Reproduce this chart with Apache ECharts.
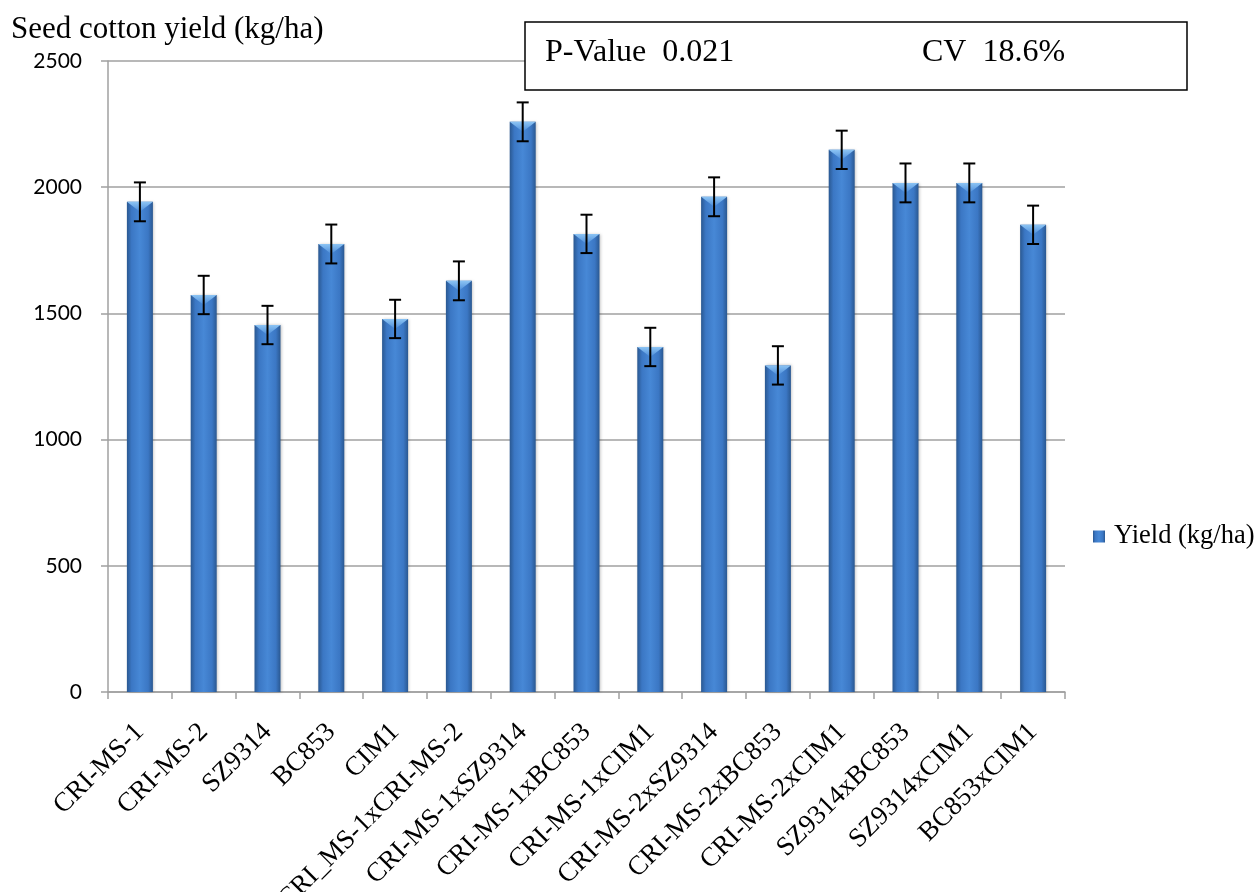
<!DOCTYPE html>
<html>
<head>
<meta charset="utf-8">
<script src="https://cdn.jsdelivr.net/npm/echarts@6/dist/echarts.min.js"></script>
<style>
html,body{margin:0;padding:0;background:#fff;}
#chart{width:1257px;height:892px;}
</style>
</head>
<body>
<div id="chart"></div>
<script>
const categories = ['CRI-MS-1','CRI-MS-2','SZ9314','BC853','CIM1','CRI_MS-1xCRI-MS-2','CRI-MS-1xSZ9314','CRI-MS-1xBC853','CRI-MS-1xCIM1','CRI-MS-2xSZ9314','CRI-MS-2xBC853','CRI-MS-2xCIM1','SZ9314xBC853','SZ9314xCIM1','BC853xCIM1'];
const yieldValues = [1942,1573,1454,1775,1478,1629,2259,1815,1367,1962,1294,2148,2017,2017,1851];
const errorValues = [77,76,76,77,76,77,77,76,76,77,76,76,77,77,76];
const yTicks = [0,500,1000,1500,2000,2500];
const seriesName = 'Yield (kg/ha)';
const titleText = 'Seed cotton yield (kg/ha)';
const pValueText = 'P-Value  0.021';
const cvText = 'CV  18.6%';

const serif = '"Liberation Serif","Times New Roman",serif';
const chart = echarts.init(document.getElementById('chart'), null, {renderer:'canvas'});

const barGrad = new echarts.graphic.LinearGradient(0,0,1,0,[
  {offset:0,color:'#2a5891'},
  {offset:0.18,color:'#3b77c4'},
  {offset:0.5,color:'#4788d6'},
  {offset:0.82,color:'#3b77c4'},
  {offset:1,color:'#2a5891'}
]);

const BAR_W = 26;

chart.setOption({
  animation:false,
  backgroundColor:'#fff',
  title:{
    text:titleText,
    left:6, top:9,
    textStyle:{fontFamily:serif,fontSize:31,fontWeight:'normal',color:'#000'}
  },
  legend:{
    data:[seriesName],
    left:1088, top:518,
    icon:'rect',
    itemWidth:12, itemHeight:12, itemGap:4,
    textStyle:{fontFamily:serif,fontSize:26.5,color:'#000',padding:[0,0,0,4]}
  },
  grid:{left:108,right:192,top:61,bottom:200,containLabel:false,outerBoundsMode:'none'},
  xAxis:{
    type:'category',
    data:categories,
    boundaryGap:true,
    axisLine:{show:true,lineStyle:{color:'#a0a0a0',width:1.5}},
    axisTick:{show:true,length:7,lineStyle:{color:'#a0a0a0',width:1.5}},
    axisLabel:{
      interval:0,
      rotate:45,
      margin:36,
      fontFamily:serif,
      fontSize:27,
      color:'#000'
    },
    splitLine:{show:false}
  },
  yAxis:{
    type:'value',
    min:yTicks[0], max:yTicks[yTicks.length-1], interval:500,
    axisLine:{show:true,lineStyle:{color:'#a0a0a0',width:1.5}},
    axisTick:{show:true,length:7,lineStyle:{color:'#a0a0a0',width:1.5}},
    axisLabel:{margin:26,fontFamily:'Lato, "Liberation Sans", sans-serif',fontSize:21,color:'#000',formatter:function(v){return String(v);}},
    splitLine:{show:true,lineStyle:{color:'#a0a0a0',width:1.5}}
  },
  series:[
    {
      name:seriesName,
      type:'bar',
      data:yieldValues,
      barWidth:BAR_W,
      itemStyle:{color:barGrad,shadowColor:'rgba(0,0,0,0.25)',shadowBlur:3,shadowOffsetX:1}
    },
    {
      name:'bevel',
      type:'custom',
      silent:true,
      z:3,
      data:yieldValues.map((v,i)=>[i,v]),
      renderItem:function(params,api){
        const p = api.coord([api.value(0),api.value(1)]);
        const hw = BAR_W/2;
        return {
          type:'polygon',
          shape:{points:[[p[0]-hw,p[1]],[p[0]+hw,p[1]],[p[0],p[1]+10]]},
          style:{fill:new echarts.graphic.LinearGradient(0,0,0,1,[{offset:0,color:'#8cc4f4'},{offset:1,color:'#4a8ad8'}])}
        };
      }
    },
    {
      name:'error',
      type:'custom',
      silent:true,
      z:4,
      data:yieldValues.map((v,i)=>[i,v-errorValues[i],v+errorValues[i]]),
      renderItem:function(params,api){
        const x = api.value(0);
        const lo = api.coord([x,api.value(1)]);
        const hi = api.coord([x,api.value(2)]);
        const cw = 6;
        const st = {stroke:'#000',lineWidth:2};
        return {
          type:'group',
          children:[
            {type:'line',shape:{x1:hi[0],y1:hi[1],x2:lo[0],y2:lo[1]},style:st},
            {type:'line',shape:{x1:hi[0]-cw,y1:hi[1],x2:hi[0]+cw,y2:hi[1]},style:st},
            {type:'line',shape:{x1:lo[0]-cw,y1:lo[1],x2:lo[0]+cw,y2:lo[1]},style:st}
          ]
        };
      }
    }
  ],
  graphic:[
    {
      type:'rect',
      z:100,
      shape:{x:525,y:22,width:662,height:68},
      style:{fill:'#fff',stroke:'#000',lineWidth:1.5}
    },
    {
      type:'text',
      z:101,
      x:545, y:53,
      style:{text:pValueText,fontFamily:serif,fontSize:32,fill:'#000',textVerticalAlign:'middle',verticalAlign:'middle'}
    },
    {
      type:'text',
      z:101,
      x:922, y:53,
      style:{text:cvText,fontFamily:serif,fontSize:32,fill:'#000',textVerticalAlign:'middle',verticalAlign:'middle'}
    }
  ]
});
</script>
</body>
</html>
